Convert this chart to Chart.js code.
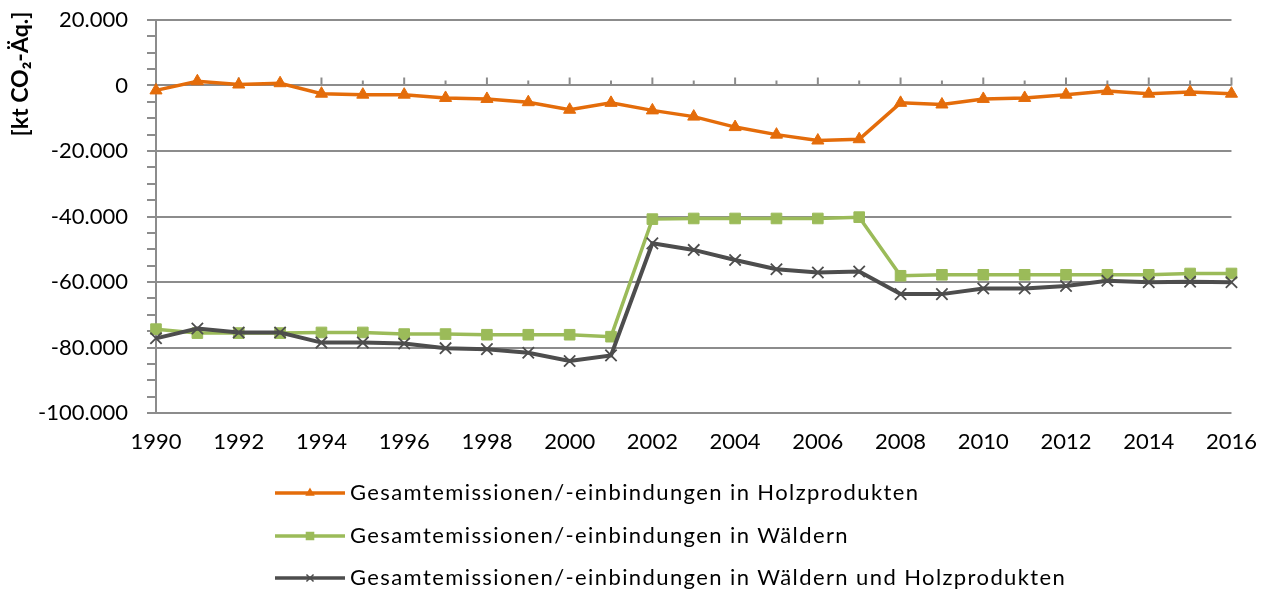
<!DOCTYPE html>
<html>
<head>
<meta charset="utf-8">
<script src="https://cdn.jsdelivr.net/npm/chart.js@4.4.0/dist/chart.umd.min.js"></script>
<style>
  html, body { margin: 0; padding: 0; background: #fff; }
</style>
</head>
<body>
<canvas id="chart" width="1273" height="591"></canvas>
<script>
// Data
const years = ['1990','1991','1992','1993','1994','1995','1996','1997','1998','1999','2000','2001','2002',
  '2003','2004','2005','2006','2007','2008','2009','2010','2011','2012','2013','2014','2015','2016'];
const seriesNames = [
  'Gesamtemissionen/-einbindungen in Holzprodukten',
  'Gesamtemissionen/-einbindungen in Wäldern',
  'Gesamtemissionen/-einbindungen in Wäldern und Holzprodukten'
];
const holzprodukte = [-1500, 1300, 300, 700, -2500, -2800, -2800, -3800, -4100, -5100, -7400, -5300, -7600,
  -9500, -12700, -15000, -16800, -16400, -5300, -5800, -4100, -3800, -2800, -1700, -2500, -2000, -2500];
const waelder = [-74400, -75600, -75600, -75600, -75400, -75400, -75900, -75900, -76100, -76100, -76100, -76700, -40800,
  -40600, -40600, -40600, -40600, -40200, -58100, -57800, -57800, -57800, -57800, -57800, -57800, -57400, -57400];
const gesamt = [-77200, -74200, -75400, -75400, -78500, -78500, -78800, -80200, -80500, -81600, -84100, -82400, -48200,
  -50200, -53300, -56100, -57100, -56800, -63700, -63700, -62000, -62000, -61200, -59600, -60100, -59900, -60100];
const yMin = -100000;
const yMax = 20000;

// Styles
const ORANGE = '#E46C0A';
const GREEN = '#9BBB59';
const DARK = '#4D4D4D';
const AXIS = '#8C8C8C';
const FONT = 'Lato, Carlito, sans-serif';

function formatDe(v) {
  const s = String(Math.abs(v)).replace(/\B(?=(\d{3})+(?!\d))/g, '.');
  return (v < 0 ? '-' : '') + s;
}

// Upward tick marks on the zero line (Excel axis crossing at 0)
const zeroTicks = {
  id: 'zeroTicks',
  beforeDatasetsDraw(chart) {
    const { ctx, scales: { x, y } } = chart;
    const y0 = y.getPixelForValue(0);
    ctx.save();
    ctx.strokeStyle = AXIS;
    ctx.lineWidth = 2;
    years.forEach((yr, i) => {
      const px = x.getPixelForValue(i);
      const len = i % 2 === 0 ? 8 : 5;
      ctx.beginPath();
      ctx.moveTo(px, y0);
      ctx.lineTo(px, y0 - len);
      ctx.stroke();
    });
    ctx.restore();
  }
};

// Rotated axis title, placed near the top like the original
const yTitle = {
  id: 'yTitle',
  afterDraw(chart) {
    const ctx = chart.ctx;
    ctx.save();
    ctx.translate(21, 74);
    ctx.rotate(-Math.PI / 2);
    ctx.fillStyle = '#000';
    ctx.font = 'bold 23px ' + FONT;
    ctx.textAlign = 'center';
    ctx.textBaseline = 'middle';
    ctx.fillText('[kt CO₂-Äq.]', 0, 0);
    ctx.restore();
  }
};

// Legend stacked vertically below the plot
const stackedLegend = {
  id: 'stackedLegend',
  afterDraw(chart) {
    const ctx = chart.ctx;
    const rows = [493, 536, 578];
    const marks = [
      { color: ORANGE, style: 'triangle', radius: 4 },
      { color: GREEN, style: 'rect', radius: 5 },
      { color: DARK, style: 'crossRot', radius: 5 }
    ];
    ctx.save();
    seriesNames.forEach((name, i) => {
      const yy = rows[i];
      const m = marks[i];
      ctx.strokeStyle = m.color;
      ctx.fillStyle = m.color;
      ctx.lineWidth = 3.5;
      ctx.beginPath();
      ctx.moveTo(275, yy);
      ctx.lineTo(345, yy);
      ctx.stroke();
      ctx.lineWidth = 1.5;
      Chart.helpers.drawPoint(ctx, { pointStyle: m.style, radius: m.radius, borderWidth: 1.5, rotation: 0 }, 310, yy);
      ctx.fillStyle = '#000';
      ctx.font = '22px ' + FONT;
      ctx.letterSpacing = '1.4px';
      ctx.textAlign = 'left';
      ctx.textBaseline = 'middle';
      ctx.fillText(name, 350, yy);
    });
    ctx.restore();
  }
};

const ctx = document.getElementById('chart').getContext('2d');
new Chart(ctx, {
  type: 'line',
  data: {
    labels: years,
    datasets: [
      {
        label: seriesNames[0],
        data: holzprodukte,
        borderColor: ORANGE,
        backgroundColor: ORANGE,
        borderWidth: 3.5,
        pointStyle: 'triangle',
        pointRadius: 7,
        pointBorderWidth: 1,
        order: 2
      },
      {
        label: seriesNames[1],
        data: waelder,
        borderColor: GREEN,
        backgroundColor: GREEN,
        borderWidth: 3.5,
        pointStyle: 'rect',
        pointRadius: 7.5,
        pointBorderWidth: 1,
        order: 1
      },
      {
        label: seriesNames[2],
        data: gesamt,
        borderColor: DARK,
        backgroundColor: DARK,
        borderWidth: 4,
        pointStyle: 'crossRot',
        pointRadius: 8,
        pointBorderWidth: 1.8,
        order: 0
      }
    ]
  },
  options: {
    responsive: false,
    animation: false,
    layout: { padding: { top: 20, right: 39, left: 0, bottom: 0 } },
    elements: { line: { tension: 0 } },
    plugins: {
      legend: { display: false },
      tooltip: { enabled: false }
    },
    scales: {
      x: {
        type: 'category',
        offset: false,
        grid: { display: false, drawTicks: false },
        border: { display: false },
        ticks: {
          autoSkip: false,
          maxRotation: 0,
          padding: 16,
          color: '#000',
          font: { family: FONT, size: 22 },
          callback: (val, i) => (i % 2 === 0 ? years[i] : '')
        },
        afterFit: (scale) => { scale.height = 178; }
      },
      y: {
        min: yMin,
        max: yMax,
        ticks: {
          stepSize: 5000,
          autoSkip: false,
          padding: 19,
          color: '#000',
          font: { family: FONT, size: 22 },
          callback: (v) => (v % 20000 === 0 ? formatDe(v) : '')
        },
        grid: {
          color: (c) => (c.tick && c.tick.value % 20000 === 0 ? AXIS : 'rgba(0,0,0,0)'),
          tickColor: AXIS,
          tickLength: 9,
          lineWidth: 2
        },
        border: { display: true, color: AXIS, width: 2 },
        afterFit: (scale) => {
          scale.width = 156;
          scale.paddingTop = 0;
          scale.paddingBottom = 0;
        }
      }
    }
  },
  plugins: [zeroTicks, yTitle, stackedLegend]
});
</script>
</body>
</html>
